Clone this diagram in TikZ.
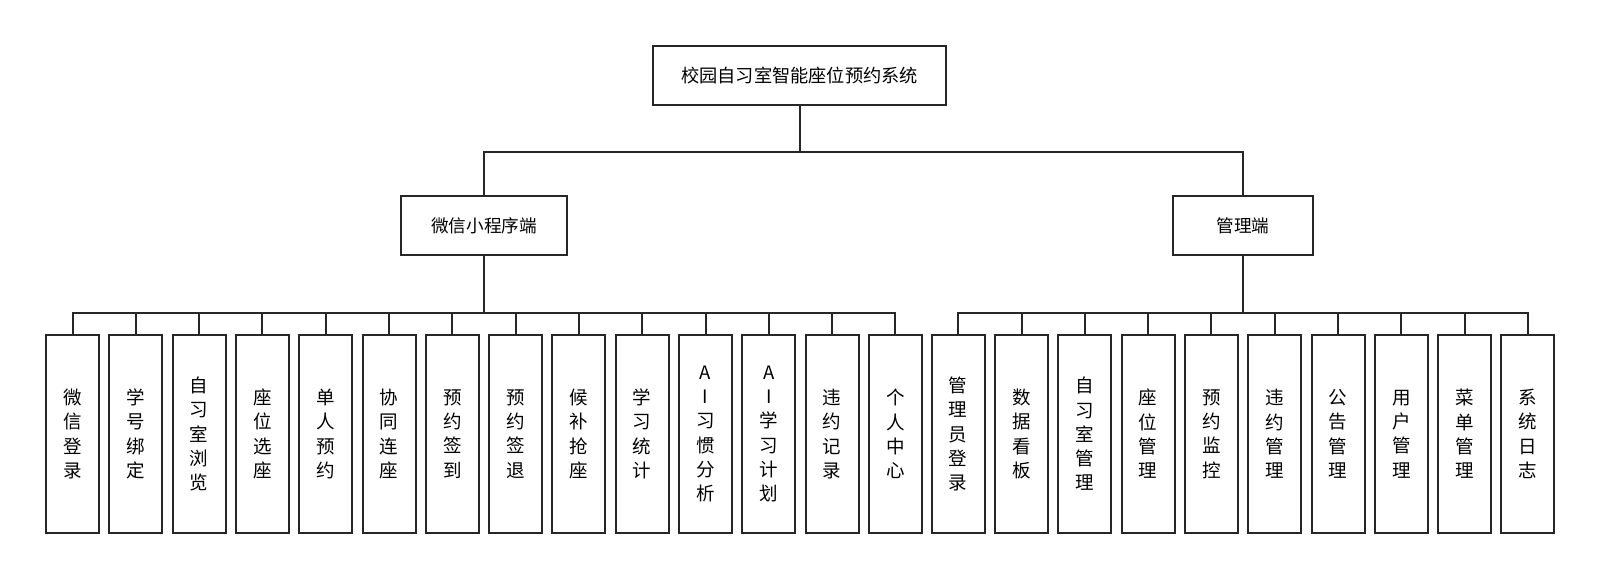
\documentclass[tikz,border=0pt]{standalone}
\usepackage{fontspec}
\setmainfont{Noto Sans CJK SC}
\usetikzlibrary{positioning, calc}
\tikzset{
  every picture/.style={line width=2pt},
  box/.style={draw=black!85, fill=white, align=center, inner sep=0pt, minimum height=59pt},
  topbox/.style={box, minimum width=293pt, font=\fontsize{18.2}{24}\selectfont},
  midbox/.style={box, font=\fontsize{17.6}{24}\selectfont},
  leafbox/.style={box, minimum width=53pt, minimum height=198pt, font=\fontsize{18.5}{24.3}\selectfont},
  link/.style={draw=black!85, line width=2pt},
}

\begin{document}
\begin{tikzpicture}[x=1pt, y=-1pt]
  \useasboundingbox (0,0) rectangle (1600,580);
  % top levels
  \node[topbox] (root) at (799.5,75.5) {校园自习室智能座位预约系统};
  \node[midbox, minimum width=166pt] (wx) at (484,225.5) {微信小程序端};
  \node[midbox, minimum width=140pt] (adm) at (1243,225.5) {管理端};
  \draw[link] (root.south) -- ++(0,46) -| (wx.north);
  \draw[link] (root.south) ++(0,46) -| (adm.north);
  % mini program functions
  \foreach \txt [count=\i from 0] in {微\\信\\登\\录, 学\\号\\绑\\定, 自\\习\\室\\浏\\览,
      座\\位\\选\\座, 单\\人\\预\\约, 协\\同\\连\\座, 预\\约\\签\\到, 预\\约\\签\\退,
      候\\补\\抢\\座, 学\\习\\统\\计, A\\I\\习\\惯\\分\\析, A\\I\\学\\习\\计\\划,
      违\\约\\记\\录, 个\\人\\中\\心} {
    \node[leafbox] (w\i) at ({72.5+63.3*\i},434) {\txt};
    \draw[link] (wx.south) -- ++(0,57) -| (w\i.north);
  }
  % admin functions
  \foreach \txt [count=\i from 0] in {管\\理\\员\\登\\录, 数\\据\\看\\板, 自\\习\\室\\管\\理,
      座\\位\\管\\理, 预\\约\\监\\控, 违\\约\\管\\理, 公\\告\\管\\理, 用\\户\\管\\理,
      菜\\单\\管\\理, 系\\统\\日\\志} {
    \node[leafbox] (a\i) at ({958.2+63.3*\i},434) {\txt};
    \draw[link] (adm.south) -- ++(0,57) -| (a\i.north);
  }
\end{tikzpicture}
\end{document}
